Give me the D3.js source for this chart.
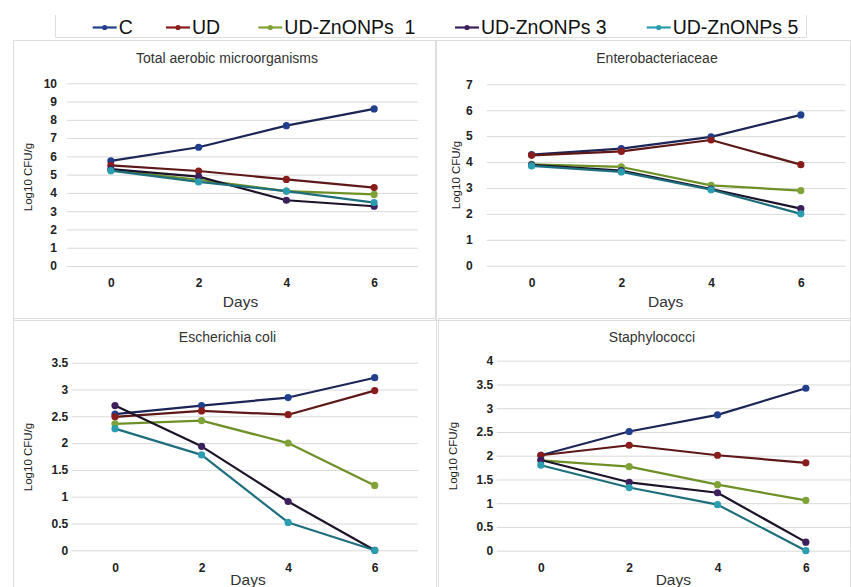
<!DOCTYPE html>
<html>
<head>
<meta charset="utf-8">
<script src="https://cdn.jsdelivr.net/npm/d3@7"></script>
<style>
  html, body { margin: 0; padding: 0; background: #fff; }
  svg { display: block; font-family: "Liberation Sans", Arial, sans-serif; }
</style>
</head>
<body>
<svg id="chart" width="851" height="587"></svg>
<script>
// ---------------- DATA ----------------
const days = [0, 2, 4, 6];
const seriesNames = ["C", "UD", "UD-ZnONPs  1", "UD-ZnONPs 3", "UD-ZnONPs 5"];

// Log10 CFU/g, one row per series (C, UD, ZnONPs 1, ZnONPs 3, ZnONPs 5)
const totalAerobic = [
  [5.75, 6.50, 7.68, 8.60],
  [5.51, 5.20, 4.74, 4.29],
  [5.25, 4.72, 4.10, 3.92],
  [5.30, 4.89, 3.60, 3.27],
  [5.22, 4.60, 4.10, 3.47]
];
const enterobacteriaceae = [
  [4.29, 4.52, 4.97, 5.82],
  [4.26, 4.41, 4.85, 3.90],
  [3.91, 3.81, 3.10, 2.90],
  [3.89, 3.67, 2.96, 2.20],
  [3.85, 3.62, 2.93, 2.00]
];
const escherichiaColi = [
  [2.54, 2.70, 2.85, 3.22],
  [2.49, 2.60, 2.53, 2.98],
  [2.36, 2.42, 2.00, 1.21],
  [2.70, 1.94, 0.91, 0.00],
  [2.27, 1.78, 0.52, 0.00]
];
const staphylococci = [
  [2.01, 2.51, 2.86, 3.42],
  [2.01, 2.22, 2.01, 1.85],
  [1.90, 1.77, 1.39, 1.06],
  [1.91, 1.44, 1.22, 0.18],
  [1.80, 1.33, 0.97, 0.00]
];

const tamTicks = [0, 1, 2, 3, 4, 5, 6, 7, 8, 9, 10];
const entTicks = [0, 1, 2, 3, 4, 5, 6, 7];
const ecoliTicks = [0, 0.5, 1, 1.5, 2, 2.5, 3, 3.5];
const staphTicks = [0, 0.5, 1, 1.5, 2, 2.5, 3, 3.5, 4];

const panelTitles = ["Total aerobic microorganisms", "Enterobacteriaceae", "Escherichia coli", "Staphylococci"];
const xTitle = "Days";
const yTitle = "Log10 CFU/g";

// ---------------- STYLE ----------------
const lineColors   = ["#1b2657", "#5e1818", "#6e9127", "#1c1329", "#1e6f7d"];
const markerColors = ["#213f8c", "#8a1c1c", "#80a337", "#3c1f5c", "#2a9db0"];
const frameColor = "#dedede";
const gridColor = "#d9d9d9";

const svg = d3.select("#chart");

// panel layouts (positions only)
const layouts = [
  { data: totalAerobic, ticks: tamTicks, frame: [13, 40, 436, 318],
    x0: 67, x1: 418, yTop: 83.3, yBot: 266,
    titleX: 227, titleY: 58, tickY: 283, daysX: 240.5, daysY: 302, ylabX: 28, ylabY: 177, tickGap: 10 },
  { data: enterobacteriaceae, ticks: entTicks, frame: [436, 40, 851, 318],
    x0: 486.7, x1: 845.7, yTop: 84.3, yBot: 265.7,
    titleX: 657, titleY: 58.3, tickY: 282.7, daysX: 665.7, daysY: 301.7, ylabX: 455.7, ylabY: 175, tickGap: 14 },
  { data: escherichiaColi, ticks: ecoliTicks, frame: [13, 318, 437, 587],
    x0: 71.7, x1: 418, yTop: 362.7, yBot: 550.3,
    titleX: 227.5, titleY: 336.7, tickY: 567.7, daysX: 248, daysY: 579.5, ylabX: 28.3, ylabY: 457, tickGap: 3.5 },
  { data: staphylococci, ticks: staphTicks, frame: [438, 318, 851, 587],
    x0: 496.7, x1: 850, yTop: 360.7, yBot: 550.7,
    titleX: 652, titleY: 336.7, tickY: 567.7, daysX: 673.3, daysY: 579.5, ylabX: 453.3, ylabY: 456, tickGap: 3.5 }
];

layouts.forEach((L, pi) => {
  const g = svg.append("g");
  // frame
  g.append("rect")
    .attr("x", L.frame[0] + 0.5).attr("y", L.frame[1] + 0.5)
    .attr("width", L.frame[2] - L.frame[0] - 1).attr("height", L.frame[3] - L.frame[1] + 2)
    .attr("fill", "none").attr("stroke", frameColor).attr("stroke-width", 1);

  const x = d3.scalePoint().domain(days).range([L.x0, L.x1]).padding(0.5);
  const y = d3.scaleLinear().domain([0, d3.max(L.ticks)]).range([L.yBot, L.yTop]);

  // gridlines via axis
  const yGrid = d3.axisLeft(y).tickValues(L.ticks).tickSize(-(L.x1 - L.x0)).tickFormat("");
  const gg = g.append("g").attr("transform", `translate(${L.x0},0)`).call(yGrid);
  gg.select(".domain").remove();
  gg.selectAll(".tick line").attr("stroke", gridColor).attr("stroke-width", 1);

  // y tick labels
  const yAx = d3.axisLeft(y).tickValues(L.ticks).tickSize(0).tickPadding(L.tickGap).tickFormat(d3.format("~g"));
  const ya = g.append("g").attr("transform", `translate(${L.x0},0)`).call(yAx);
  ya.select(".domain").remove();
  ya.selectAll("text").attr("font-size", 12).attr("font-weight", "bold").attr("fill", "#222")
    .attr("font-family", "'Liberation Sans', Arial, sans-serif");

  // x tick labels
  const xAx = d3.axisBottom(x).tickSize(0).tickPadding(0);
  const xa = g.append("g").attr("transform", `translate(0,${L.tickY})`).call(xAx);
  xa.select(".domain").remove();
  xa.selectAll("text").attr("dy", "0.35em").attr("font-size", 12).attr("font-weight", "bold").attr("fill", "#222")
    .attr("font-family", "'Liberation Sans', Arial, sans-serif");

  // titles
  g.append("text").attr("x", L.titleX).attr("y", L.titleY).attr("dy", "0.35em")
    .attr("text-anchor", "middle").attr("font-size", 14).attr("fill", "#333").text(panelTitles[pi]);
  g.append("text").attr("x", L.daysX).attr("y", L.daysY).attr("dy", "0.35em")
    .attr("text-anchor", "middle").attr("font-size", 15.5).attr("fill", "#333").text(xTitle);
  g.append("text").attr("transform", `translate(${L.ylabX},${L.ylabY}) rotate(-90)`).attr("dy", "0.35em")
    .attr("text-anchor", "middle").attr("font-size", 11.5).attr("fill", "#222").text(yTitle);

  // series
  const line = d3.line().x((d, i) => x(days[i])).y(d => y(d));
  L.data.forEach((vals, si) => {
    g.append("path").datum(vals).attr("d", line)
      .attr("fill", "none").attr("stroke", lineColors[si]).attr("stroke-width", 2.2)
      .attr("stroke-linejoin", "round");
    g.selectAll(null).data(vals).enter().append("circle")
      .attr("cx", (d, i) => x(days[i])).attr("cy", d => y(d)).attr("r", 3.6)
      .attr("fill", markerColors[si]);
  });
});

// ---------------- LEGEND ----------------
const legend = svg.append("g");
legend.append("path")
  .attr("d", "M55.5,15 V37.5 H806.5 V15")
  .attr("fill", "none").attr("stroke", frameColor).attr("stroke-width", 1);
const legendX = [92.7, 166, 258.3, 455, 646.7];
seriesNames.forEach((name, i) => {
  const lg = legend.append("g").attr("transform", `translate(${legendX[i]},27.5)`);
  lg.append("line").attr("x1", 0).attr("x2", 24).attr("y1", 0).attr("y2", 0)
    .attr("stroke", markerColors[i]).attr("stroke-width", 2.2);
  lg.append("circle").attr("cx", 12).attr("cy", 0).attr("r", 2.6).attr("fill", markerColors[i]);
  lg.append("text").attr("x", 26).attr("y", 0).attr("dy", "0.35em")
    .attr("font-size", 19.5).attr("fill", "#111").style("white-space", "pre").text(name);
});
</script>
</body>
</html>
